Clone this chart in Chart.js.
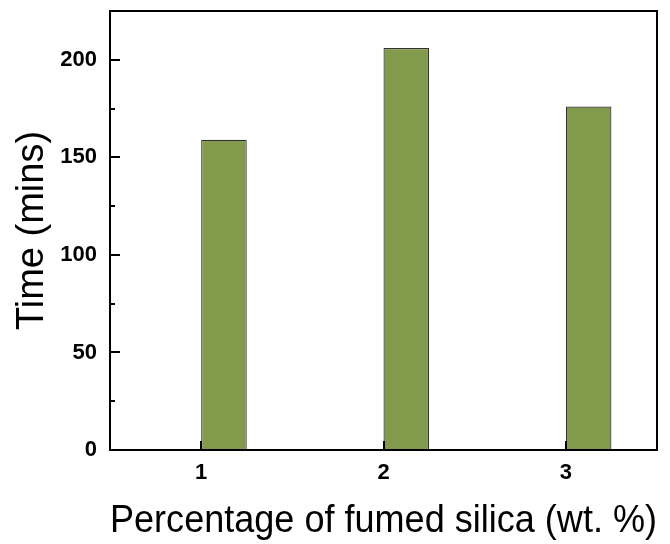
<!DOCTYPE html>
<html>
<head>
<meta charset="utf-8">
<script src="https://cdn.jsdelivr.net/npm/chart.js@4.4.1/dist/chart.umd.min.js"></script>
<style>
html,body{margin:0;padding:0;background:#fff;}
#wrap{width:670px;height:544px;position:relative;}
</style>
</head>
<body>
<div id="wrap"><canvas id="c" width="670" height="544"></canvas></div>
<script>
const categories = ['1', '2', '3'];
const timeValues = [159, 206, 176];
const yTickValues = [0, 50, 100, 150, 200];
const yMinorTickValues = [25, 75, 125, 175, 225];

const frameTicks = {
  id: 'frameTicks',
  afterDraw(chart) {
    const ctx = chart.ctx;
    const a = chart.chartArea;
    const x = chart.scales.x, y = chart.scales.y;
    ctx.save();
    ctx.strokeStyle = '#000';
    ctx.lineWidth = 2;
    ctx.strokeRect(a.left, a.top, a.right - a.left, a.bottom - a.top);
    ctx.beginPath();
    yTickValues.forEach(v => {
      const py = Math.round(y.getPixelForValue(v));
      ctx.moveTo(a.left, py); ctx.lineTo(a.left + 10, py);
    });
    yMinorTickValues.forEach(v => {
      const py = Math.round(y.getPixelForValue(v));
      if (py > a.top + 2) { ctx.moveTo(a.left, py); ctx.lineTo(a.left + 5, py); }
    });
    categories.forEach((c, i) => {
      const px = Math.round(x.getPixelForValue(i));
      ctx.moveTo(px, a.bottom); ctx.lineTo(px, a.bottom - 9);
    });
    ctx.stroke();
    ctx.restore();
  }
};

new Chart(document.getElementById('c'), {
  type: 'bar',
  data: {
    labels: categories,
    datasets: [
      { label: 'spacer', data: categories.map(() => null) },
      {
        label: 'Time',
        data: timeValues,
        backgroundColor: '#819a4c',
        borderColor: '#333333',
        borderWidth: 1.2
      }
    ]
  },
  plugins: [frameTicks],
  options: {
    responsive: false,
    animation: false,
    events: [],
    layout: { padding: { left: 7, right: 13, top: 11, bottom: 0 } },
    plugins: { legend: { display: false }, tooltip: { enabled: false } },
    datasets: { bar: { categoryPercentage: 0.5, barPercentage: 1.0 } },
    scales: {
      x: {
        grid: { display: false, drawTicks: false },
        border: { display: false },
        ticks: {
          color: '#000',
          font: { family: 'Liberation Sans', size: 22, weight: 'bold' },
          padding: 10
        },
        title: {
          display: true,
          text: 'Percentage of fumed silica (wt. %)',
          color: '#000',
          font: { family: 'Liberation Sans', size: 38 },
          padding: { top: 4, bottom: 0 }
        },
        afterFit(s) { s.height = 94; s.paddingLeft = 0; s.paddingRight = 0; }
      },
      y: {
        min: 0,
        max: 225,
        afterBuildTicks(s) { s.ticks = yTickValues.map(v => ({ value: v })); },
        grid: { display: false, drawTicks: false },
        border: { display: false },
        ticks: {
          color: '#000',
          font: { family: 'Liberation Sans', size: 22, weight: 'bold' },
          padding: 13
        },
        title: {
          display: true,
          text: 'Time (mins)',
          color: '#000',
          font: { family: 'Liberation Sans', size: 38 },
          padding: { top: 3, bottom: 4 }
        },
        afterFit(s) { s.width = 103; s.paddingTop = 0; s.paddingBottom = 0; }
      }
    }
  }
});
</script>
</body>
</html>
